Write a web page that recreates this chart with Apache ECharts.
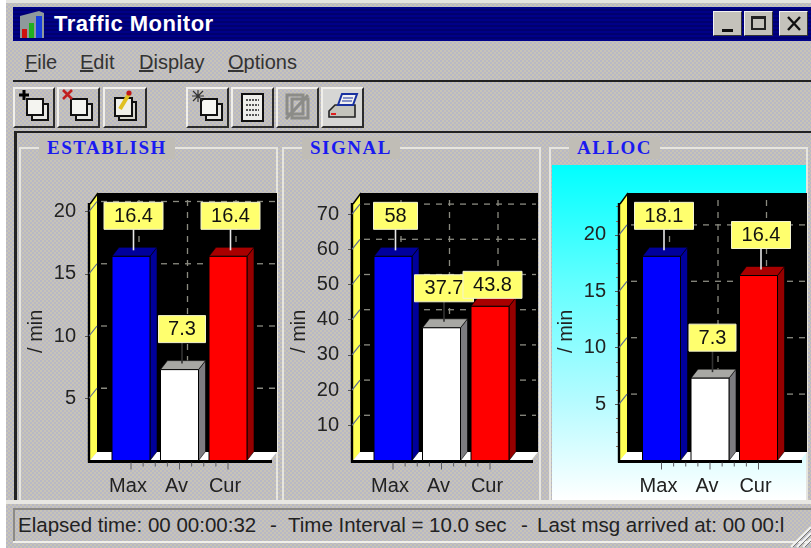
<!DOCTYPE html>
<html>
<head>
<meta charset="utf-8">
<title>Traffic Monitor</title>
<script src="https://cdn.jsdelivr.net/npm/echarts@6/dist/echarts.min.js"></script>
<style>
html, body { margin: 0; padding: 0; background: #fff; overflow: hidden; }
#win { position: absolute; left: 0; top: 0; width: 811px; height: 548px; overflow: hidden; filter: blur(0.55px); font-family: "Liberation Sans", Arial, sans-serif; color: #2a2a2a; }
#face { position: absolute; left: 6px; top: 2px; width: 805px; height: 546px; background-color: #c0bdb6;
    background-image: conic-gradient(#c8c4b6 25%, #b8b8c6 0 50%, #c8c4b6 0 75%, #b8b8c6 0); background-size: 4px 4px; }
.abs { position: absolute; }
#titlebar { left: 13px; top: 7px; width: 798px; height: 34px; background-color: #00007e;
    background-image: repeating-linear-gradient(0deg, #000088 0 2px, #00006e 2px 4px); }
#titletext { left: 54px; top: 11px; color: #fff; font-weight: bold; font-size: 22px; letter-spacing: .45px; line-height: 26px; white-space: nowrap; }
.ctl { background: #c4c2bb; border: 1px solid; border-color: #f2f2f2 #333 #333 #f2f2f2; box-sizing: border-box; top: 11px; height: 25px; }
.menu { top: 50px; font-size: 20px; line-height: 24px; white-space: nowrap; color: #333; }
.hline { background: #222; height: 2px; }
.btn { top: 87px; height: 41px; box-sizing: border-box; border: 2px solid; border-color: #f0efeb #2c2c2c #2c2c2c #f0efeb; }
.group { top: 147px; height: 354px; box-sizing: border-box; border: 2px solid #e6e5e0; border-bottom: none; }
.gtitle { top: 137px; font-family: "Liberation Serif", serif; font-weight: bold; font-size: 19px; line-height: 22px; color: #1a1af0; letter-spacing: 1.5px; padding: 0 8px; background-color: #c0bdb6; white-space: nowrap; }
#cyan { left: 552px; top: 165px; width: 254px; height: 335px; background: linear-gradient(180deg, #00ffff 0%, #62ffff 35%, #b4fbff 70%, #ffffff 100%); }
.status { top: 513px; font-size: 20.5px; line-height: 24px; white-space: nowrap; color: #222; }
#main { position: absolute; left: 0; top: 0; width: 811px; height: 548px; }
</style>
</head>
<body>
<div id="win">
    <div id="face"></div>
    <div class="abs" style="left:6px;top:0;width:805px;height:3px;background:#e4e3df"></div>
    <div class="abs" id="titlebar"></div>
    <svg class="abs" style="left:19px;top:10px" width="26" height="30" viewBox="0 0 26 30">
        <path d="M1 6 L20 1 L25 3 V28 H1 Z" fill="#8f9a9c"/>
        <rect x="3" y="19" width="5" height="9" fill="#d01010"/>
        <rect x="10" y="13" width="5" height="15" fill="#20b020"/>
        <rect x="17" y="6" width="6" height="22" fill="#1840e0"/>
    </svg>
    <div class="abs" id="titletext">Traffic Monitor</div>
    <div class="abs ctl" style="left:713px;width:29px"><div class="abs" style="left:8px;bottom:3px;width:11px;height:3px;background:#111"></div></div>
    <div class="abs ctl" style="left:744px;width:29px"><div class="abs" style="left:6px;top:4px;width:15px;height:14px;border:2px solid #222;border-top-width:3px;box-sizing:border-box"></div></div>
    <div class="abs ctl" style="left:779px;width:29px"><svg class="abs" style="left:6px;top:4px" width="16" height="15"><path d="M2 1 L14 14 M14 1 L2 14" stroke="#111" stroke-width="2.4"/></svg></div>

    <div class="abs menu" style="left:25px"><u>F</u>ile</div>
    <div class="abs menu" style="left:80px"><u>E</u>dit</div>
    <div class="abs menu" style="left:139px"><u>D</u>isplay</div>
    <div class="abs menu" style="left:228px"><u>O</u>ptions</div>
    <div class="abs hline" style="left:13px;top:80px;width:798px"></div>

    <div class="abs btn" style="left:13px;width:42px"><svg width="38" height="37"><rect x="17" y="15" width="16" height="16" fill="#e8e8e4" stroke="#111" stroke-width="2"/><rect x="12" y="10" width="16" height="16" fill="#f4f4f0" stroke="#111" stroke-width="2"/><path d="M9 1 V11 M4 6 H14" stroke="#000" stroke-width="3"/></svg></div>
    <div class="abs btn" style="left:57px;width:43px"><svg width="39" height="37"><rect x="17" y="15" width="16" height="16" fill="#e8e8e4" stroke="#111" stroke-width="2"/><rect x="12" y="10" width="16" height="16" fill="#f4f4f0" stroke="#111" stroke-width="2"/><path d="M4 1 L13 10 M13 1 L4 10" stroke="#c02020" stroke-width="2.6"/></svg></div>
    <div class="abs btn" style="left:103px;width:44px"><svg width="40" height="37"><rect x="14" y="13" width="17" height="18" fill="#d8d8d0" stroke="#111" stroke-width="2"/><rect x="10" y="9" width="17" height="18" fill="#f0f0ea" stroke="#111" stroke-width="2"/><path d="M15 20 L24 5" stroke="#e0c020" stroke-width="4"/><circle cx="24" cy="4" r="2.6" fill="#c01818"/></svg></div>
    <div class="abs btn" style="left:186px;width:43px"><svg width="39" height="37"><rect x="18" y="15" width="16" height="16" fill="#e8e8e4" stroke="#111" stroke-width="2"/><rect x="13" y="10" width="16" height="16" fill="#f6f6f2" stroke="#111" stroke-width="2"/><path d="M10 1 V13 M4 7 H16 M5 2 L15 12 M15 2 L5 12" stroke="#333" stroke-width="1.2"/></svg></div>
    <div class="abs btn" style="left:231px;width:43px"><svg width="39" height="37"><rect x="9" y="5" width="21" height="27" fill="#eeeeea" stroke="#111" stroke-width="2"/><path d="M13 11 H26 M13 16 H26 M13 21 H26 M13 26 H26" stroke="#555" stroke-width="2" stroke-dasharray="2 1"/></svg></div>
    <div class="abs btn" style="left:276px;width:43px"><svg width="39" height="37"><rect x="14" y="10" width="16" height="19" fill="none" stroke="#8c8c88" stroke-width="3"/><rect x="9" y="6" width="16" height="19" fill="none" stroke="#8c8c88" stroke-width="3"/><path d="M8 30 L30 6" stroke="#8c8c88" stroke-width="3"/></svg></div>
    <div class="abs btn" style="left:321px;width:43px;background:#d6d6d4"><svg width="39" height="37"><path d="M6 22 L12 16 H32 V28 H6 Z" fill="#c4c4bc" stroke="#222" stroke-width="1.6"/><path d="M15 16 L19 5 H34 L30 16 Z" fill="#f0f0f0" stroke="#1830a0" stroke-width="2"/><path d="M20 9 H30 M19 12 H29" stroke="#1830a0"/><rect x="8" y="24" width="5" height="2" fill="#e02020"/></svg></div>
    <div class="abs hline" style="left:14px;top:131px;width:797px"></div>
    <div class="abs" style="left:14px;top:131px;width:3px;height:369px;background:#222"></div>

    <div class="abs group" style="left:19px;width:259px"></div>
    <div class="abs group" style="left:282px;width:259px"></div>
    <div class="abs group" style="left:549px;width:259px"></div>
    <div class="abs" id="cyan"></div>
    <div class="abs gtitle" style="left:39px">ESTABLISH</div>
    <div class="abs gtitle" style="left:302px">SIGNAL</div>
    <div class="abs gtitle" style="left:569px">ALLOC</div>

    <div class="abs" style="left:6px;top:500px;width:805px;height:4px;background:#e8e7e2"></div>
    <div class="abs" style="left:13px;top:508px;width:798px;height:2px;background:#8c8a86"></div>
    <div class="abs" style="left:13px;top:508px;width:2px;height:34px;background:#8c8a86"></div>
    <div class="abs" style="left:13px;top:541px;width:798px;height:2px;background:#f0efeb"></div>
    <div class="abs status" style="left:18px">Elapsed time: 00 00:00:32</div>
    <div class="abs status" style="left:270px">-</div>
    <div class="abs status" style="left:288px">Time Interval = 10.0 sec</div>
    <div class="abs status" style="left:521px">-</div>
    <div class="abs status" style="left:537px">Last msg arrived at: 00 00:l</div>
    <svg class="abs" style="left:788px;top:524px" width="23" height="24"><path d="M3 23 L23 3 M9 23 L23 9 M15 23 L23 15" stroke="#f2f2f2" stroke-width="2"/><path d="M5 23 L23 5 M11 23 L23 11 M17 23 L23 17" stroke="#777" stroke-width="1"/></svg>

    <div id="main"></div>
</div>
<script>
var categories = ['Max', 'Av', 'Cur'];
var establishValues = [16.4, 7.3, 16.4];
var signalValues = [58, 37.7, 43.8];
var allocValues = [18.1, 7.3, 16.4];
var establishTicks = [5, 10, 15, 20];
var signalTicks = [10, 20, 30, 40, 50, 60, 70];
var allocTicks = [5, 10, 15, 20];

var frontColors = ['#0000ff', '#ffffff', '#ff0000'];
var topColors = ['#00009c', '#a8a8a4', '#a80000'];
var sideColors = ['#00009a', '#7c7c80', '#960000'];
var stemColors = ['#e8e8e8', '#333333', '#e8e8e8'];

// panel geometry, in page pixels. gaps = distance from bar top to its label box
var panels = [
    { values: establishValues, ticks: establishTicks, step: 5, axisX: 89, left: 106.75, wallRight: 277, perUnit: 12.45, gaps: [27, 27, 27] },
    { values: signalValues, ticks: signalTicks, step: 10, axisX: 352, left: 368.75, wallRight: 538, perUnit: 3.52, gaps: [27, 26, 8] },
    { values: allocValues, ticks: allocTicks, step: 5, axisX: 619, left: 637.25, wallRight: 807, perUnit: 11.28, gaps: [27, 27, 27] }
];
var gridTop = 202, gridBottom = 460.5, bandW = 48.5, barW = 38;
var depthX = 7, depthY = 9, wallX = 8, wallY = 10;

function renderWalls(p) {
    return function (params, api) {
        var children = [];
        var x0 = p.axisX, xb = x0 + wallX, yb = gridBottom - 8.5, xr = p.wallRight;
        function shape(type, s, style) { children.push({ type: type, shape: s, style: style }); }
        function poly(pts, fill) { shape('polygon', { points: pts }, { fill: fill }); }
        function line(x1, y1, x2, y2, stroke, w, dash) {
            shape('line', { x1: x1, y1: y1, x2: x2, y2: y2 }, { stroke: stroke, lineWidth: w || 1, lineDash: dash || null });
        }
        shape('rect', { x: xb, y: 193, width: xr - xb, height: yb - 193 }, { fill: '#000' });
        poly([[x0 + 1, 204], [xb, 193], [xb, yb], [x0 + 1, gridBottom]], '#ffff55');
        line(x0, 203, x0, gridBottom + 2, '#000', 2.4);
        line(x0 + 1, 204, xb + 1, 193, '#000', 1.4);
        poly([[x0 + 1, gridBottom], [xb, yb], [xr, yb], [xr - 7, gridBottom]], '#fff');
        line(x0 - 1, gridBottom + 1, xr - 5, gridBottom + 1, '#000', 3);
        p.ticks.forEach(function (t) {
            var y = api.coord([0, t])[1];
            line(x0, y, xb, y - wallY, '#5c6a94', 1.2);
            line(xb + 4, y - wallY, xr - 2, y - wallY, '#8a8a80', 1.3, [6, 6]);
        });
        categories.forEach(function (c, i) {
            var x = api.coord([i, 0])[0] + wallX;
            line(x, 200, x, yb, '#8a8a80', 1.3, [6, 6]);
        });
        var first = api.coord([0, 0])[0];
        for (var i = 0; i <= 8; i++) {
            var xt = first + i * bandW / 4;
            line(xt, gridBottom + 2, xt, gridBottom + (i % 4 === 0 ? 9 : 6), '#5a5a60', 1);
        }
        return { type: 'group', children: children };
    };
}

function renderBar(p) {
    return function (params, api) {
        var i = api.value(0), v = api.value(1);
        var c = api.coord([i, v]), base = api.coord([i, 0]);
        var l = c[0] - barW / 2, r = c[0] + barW / 2, t = c[1], b = base[1];
        return { type: 'group', children: [
            { type: 'polygon', shape: { points: [[r, t], [r + depthX, t - depthY], [r + depthX, b - depthY], [r, b]] },
              style: { fill: sideColors[i], stroke: '#000', lineWidth: .6 } },
            { type: 'polygon', shape: { points: [[l, t], [l + depthX, t - depthY], [r + depthX, t - depthY], [r, t]] },
              style: { fill: topColors[i], stroke: '#000', lineWidth: .6 } },
            { type: 'rect', shape: { x: l, y: t, width: barW, height: b - t },
              style: { fill: frontColors[i], stroke: '#000', lineWidth: 1 } }
        ] };
    };
}

function renderLabel(p) {
    return function (params, api) {
        var i = api.value(0), v = api.value(1);
        var c = api.coord([i, v]);
        var cx = c[0] + 2.5, boxB = c[1] - p.gaps[i];
        var w = String(v).length > 2 ? (v < 10 ? 47 : 59) : 44;
        return { type: 'group', children: [
            { type: 'line', shape: { x1: cx, y1: boxB, x2: cx, y2: c[1] - 6 }, style: { stroke: stemColors[i], lineWidth: 1.6 },
              invisible: p.gaps[i] < 20 },
            { type: 'rect', shape: { x: cx - w / 2, y: boxB - 27, width: w, height: 27 }, style: { fill: '#ffff6e', stroke: '#f4f4d0', lineWidth: 1 } },
            { type: 'text', x: cx, y: boxB - 13, style: { text: String(v), fill: '#111', align: 'center', verticalAlign: 'middle',
              font: '20px "Liberation Sans", Arial, sans-serif' } }
        ] };
    };
}

var grids = [], xAxes = [], yAxes = [], series = [];
panels.forEach(function (p, n) {
    grids.push({ left: p.left, width: bandW * 3, top: gridTop, height: gridBottom - gridTop });
    xAxes.push({
        type: 'category', gridIndex: n, data: categories,
        axisLine: { show: false }, axisTick: { show: false },
        axisLabel: { color: '#222', fontSize: 20, fontFamily: 'Liberation Sans', margin: 16, padding: [0, 6, 0, 0], interval: 0 }
    });
    yAxes.push({
        type: 'value', gridIndex: n, min: 0, max: (gridBottom - gridTop) / p.perUnit, interval: p.step,
        offset: p.left - p.axisX,
        name: '/ min', nameLocation: 'middle', nameGap: 43,
        nameTextStyle: { color: '#222', fontSize: 20, fontFamily: 'Liberation Sans' },
        splitLine: { show: false },
        axisLine: { show: false },
        axisTick: { show: true, length: 4, customValues: p.ticks, lineStyle: { color: '#555' } },
        minorTick: { show: n === 2, splitNumber: 4, length: 3, lineStyle: { color: '#8c6a5c' } },
        axisLabel: { color: '#222', fontSize: 20, fontFamily: 'Liberation Sans', margin: 13, customValues: p.ticks }
    });
    series.push({ type: 'custom', xAxisIndex: n, yAxisIndex: n, z: 1, silent: true, clip: false, renderItem: renderWalls(p), data: [[0, 0]] });
    var rows = p.values.map(function (v, i) { return [i, v]; });
    series.push({ type: 'custom', xAxisIndex: n, yAxisIndex: n, z: 2, silent: true, clip: false, renderItem: renderBar(p), data: rows });
    series.push({ type: 'custom', xAxisIndex: n, yAxisIndex: n, z: 3, silent: true, clip: false, renderItem: renderLabel(p), data: rows });
});

var chart = echarts.init(document.getElementById('main'));
chart.setOption({
    animation: false,
    backgroundColor: 'transparent',
    tooltip: { show: false },
    grid: grids, xAxis: xAxes, yAxis: yAxes, series: series
});
</script>
</body>
</html>
